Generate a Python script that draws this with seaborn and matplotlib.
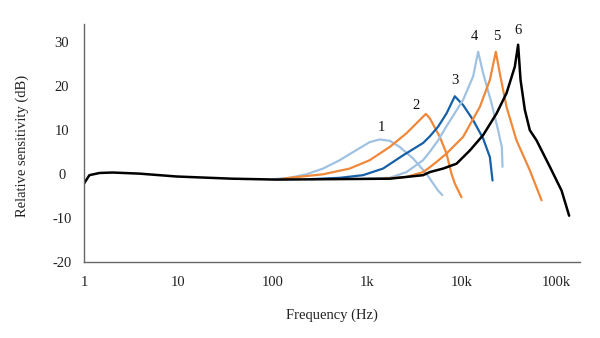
import numpy as np
import pandas as pd
import matplotlib
matplotlib.use("Agg")
import matplotlib.pyplot as plt
import seaborn as sns

# Frequency response curves (Hz, dB) for six sensor configurations
freq_1 = [100, 150, 226, 339, 509, 764, 1057, 1349, 1722, 2198, 3040, 4217, 5597, 6200]
db_1 = [-1.2, -0.9, -0.1, 1.2, 3.1, 5.4, 7.2, 7.8, 7.5, 6.1, 3.5, 0.0, -3.8, -4.8]

freq_2 = [120, 150, 339, 649, 1057, 1722, 2588, 4148, 4571, 5834, 6871, 7762, 8414, 9908]
db_2 = [-1.2, -0.9, -0.1, 1.2, 3.1, 6.1, 9.2, 13.6, 12.6, 8.4, 4.6, 0.0, -2.2, -5.3]

freq_3 = [250, 509, 898, 1463, 2383, 3881, 4571, 5597, 6871, 8414, 10300, 13140, 16790,
          19770, 21100]
db_3 = [-1.2, -0.9, -0.3, 1.2, 4.2, 7.0, 8.5, 10.7, 13.7, 17.6, 15.6, 12.2, 8.0, 3.8, -1.5]

freq_4 = [900, 1722, 2588, 3881, 4571, 5597, 6871, 10300, 13140, 14860, 16790, 20600,
          24170, 26480, 26900]
db_4 = [-1.1, -0.9, 0.4, 3.1, 5.0, 7.6, 10.8, 16.8, 22.1, 27.7, 22.8, 16.0, 9.9, 6.0, 1.6]

freq_5 = [1500, 2588, 3881, 4571, 5383, 6871, 10300, 15490, 19770, 22860, 25190, 29660,
          37830, 52360, 69660]
db_5 = [-1.1, -0.7, 0.4, 1.5, 2.7, 4.6, 8.4, 15.2, 21.3, 27.7, 22.8, 15.2, 7.6, 0.8, -6.0]

freq_6 = [1, 1.14, 1.46, 2.0, 3.87, 9.55, 37, 109, 1722, 3881, 4571, 6324, 8770, 12130,
          16790, 23270, 29660, 36310, 39360, 41760, 46370, 52360, 61660, 85310,
          113500, 136500]
db_6 = [-2.2, -0.3, 0.2, 0.3, 0.05, -0.6, -1.1, -1.3, -1.1, -0.3, 0.4, 1.2, 2.3, 5.3,
        8.8, 13.7, 18.3, 24.3, 29.3, 21.3, 14.5, 9.9, 7.6, 1.6, -3.8, -9.5]

curve_labels = ["1", "2", "3", "4", "5", "6"]
label_freq = [1390, 3240, 8400, 13700, 23400, 39000]
label_db = [10.6, 15.6, 21.1, 31.1, 31.1, 32.5]

x_ticks = [1, 10, 100, 1000, 10000, 100000]
x_tick_labels = ["1", "10", "100", "1k", "10k", "100k"]
y_ticks = [-20, -10, 0, 10, 20, 30]

LIGHT_BLUE = "#a0c2e2"
ORANGE = "#f0883a"
DARK_BLUE = "#1660a8"
BLACK = "#000000"

series = [
    (freq_1, db_1, LIGHT_BLUE, 1.6),
    (freq_2, db_2, ORANGE, 1.6),
    (freq_3, db_3, DARK_BLUE, 1.6),
    (freq_4, db_4, LIGHT_BLUE, 1.6),
    (freq_5, db_5, ORANGE, 1.6),
    (freq_6, db_6, BLACK, 1.8),
]

sns.set_theme(style="white")
plt.rcParams["font.family"] = ["Liberation Serif", "DejaVu Serif"]
plt.rcParams["axes.unicode_minus"] = False

fig = plt.figure(figsize=(6.0, 3.38), dpi=100)
ax = fig.add_axes([84 / 600, 1 - 262 / 338, 496 / 600, 238 / 338])

for f, d, c, lw in series:
    df = pd.DataFrame({"freq": f, "db": d})
    sns.lineplot(data=df, x="freq", y="db", ax=ax, color=c, linewidth=lw,
                 estimator=None, sort=False)

for lab, lf, ld in zip(curve_labels, label_freq, label_db):
    ax.text(lf, ld, lab, ha="center", va="center", fontsize=10.5, color="#111111")

ax.set_xscale("log")
ax.set_xlim(1, 10 ** 5.25)
ax.set_ylim(-20, 34)
ax.set_xticks(x_ticks)
ax.set_xticklabels(x_tick_labels)
ax.xaxis.set_minor_locator(matplotlib.ticker.NullLocator())
ax.set_yticks(y_ticks)
ax.set_yticklabels([str(v) for v in y_ticks])

for side in ["top", "right"]:
    ax.spines[side].set_visible(False)
for side in ["left", "bottom"]:
    ax.spines[side].set_color("#666666")
    ax.spines[side].set_linewidth(1.0)

ax.tick_params(axis="both", which="major", direction="inout", length=8, width=1.0,
               color="#666666", labelsize=10.5, labelcolor="#222222")
ax.tick_params(axis="x", pad=6)
ax.tick_params(axis="y", pad=12)
for t in ax.get_yticklabels():
    t.set_horizontalalignment("center")

ax.set_xlabel("Frequency (Hz)", fontsize=10.5, color="#222222")
ax.set_ylabel("Relative sensitivity (dB)", fontsize=10.5, color="#222222")
ax.xaxis.set_label_coords(0.5, -0.197)
ax.yaxis.set_label_coords(-0.111, 0.487)

fig.savefig("out.png", dpi=100, facecolor="white")
